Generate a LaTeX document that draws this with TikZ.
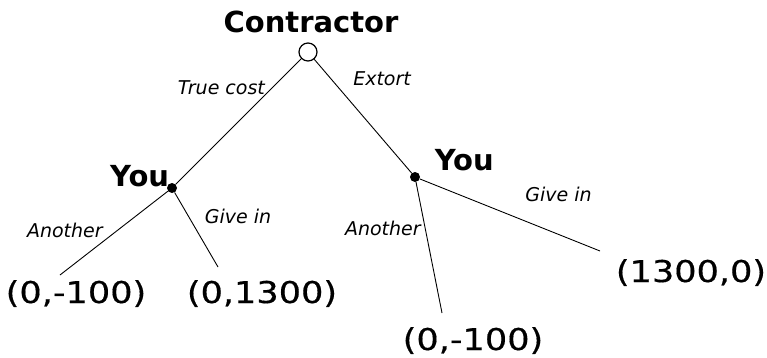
\documentclass[tikz,border=0pt]{standalone}
\usepackage{fontspec}
\setmainfont{DejaVu Sans}
\newfontfamily\leaffont[FakeStretch=1.17, FakeBold=0.5]{DejaVu Sans}
\usetikzlibrary{positioning}
\tikzset{
  chance/.style={circle, draw, line width=1.2pt, fill=white, minimum size=18pt, inner sep=0pt},
  decision/.style={circle, fill=black, minimum size=10pt, inner sep=0pt},
  player/.style={font=\fontsize{29}{31}\selectfont\bfseries, inner sep=2pt},
  payoff/.style={font=\fontsize{30}{32}\selectfont\leaffont, anchor=base},
  move/.style={font=\fontsize{19}{21}\selectfont\itshape, inner sep=2pt},
  branch/.style={line width=0.9pt}
}

\begin{document}
\begin{tikzpicture}[x=1pt, y=-1pt]
\useasboundingbox (0,0) rectangle (767,358);
% decision points
\node[chance] (c) at (308,52) {};
\node[decision] (y1) at (172,188) {};
\node[decision] (y2) at (415,177) {};
% who moves
\node[player, above=7pt of c, xshift=3pt] (contractor) {Contractor};
\node[player, above left=-5pt and -3pt of y1] (you1) {You};
\node[player, above right=0pt and 14pt of y2] (you2) {You};
% ends of the branches
\coordinate (e1) at (60,275);
\coordinate (e2) at (218,267);
\coordinate (e3) at (442,313);
\coordinate (e4) at (600,251);
% payoffs
\node[payoff] (p1) at (76,303) {(0,-100)};
\node[payoff] (p2) at (262,303) {(0,1300)};
\node[payoff] (p3) at (473,350) {(0,-100)};
\node[payoff] (p4) at (691,282) {(1300,0)};
% moves
\draw[branch] (c) -- (y1) node[move, pos=0.23, left=5pt] {True cost};
\draw[branch] (c) -- (y2) node[move, pos=0.17, right=20pt] {Extort};
\draw[branch] (y1) -- (e1) node[move, pos=0.47, left=12pt] {Another};
\draw[branch] (y1) -- (e2) node[move, pos=0.32, right=14pt] {Give in};
\draw[branch] (y2) -- (e3) node[move, pos=0.35, left=2pt] {Another};
\draw[branch] (y2) -- (e4) node[move, pos=0.77, above=30pt] {Give in};
\end{tikzpicture}
\end{document}
